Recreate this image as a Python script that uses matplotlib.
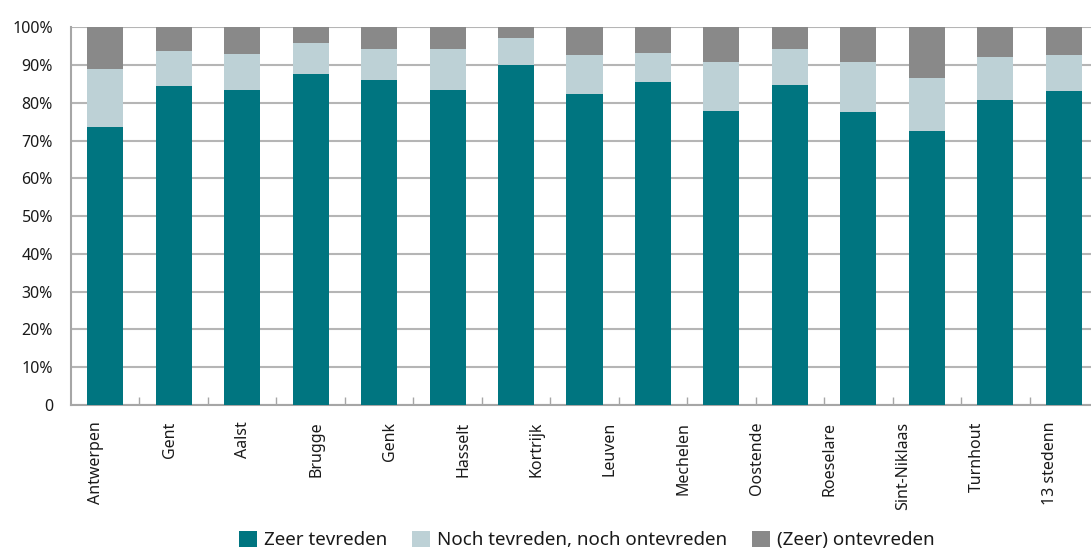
import numpy as np
import matplotlib
matplotlib.use("Agg")
import matplotlib.pyplot as plt
from matplotlib.patches import Patch

plt.rcParams['font.family'] = ['Noto Sans', 'DejaVu Sans']

# steden (14 labels) en de 15 staven zoals in de figuur
steden = ['Antwerpen', 'Gent', 'Aalst', 'Brugge', 'Genk', 'Hasselt', 'Kortrijk',
          'Leuven', 'Mechelen', 'Oostende', 'Roeselare', 'Sint-Niklaas',
          'Turnhout', '13 stedenn']

zeer_tevreden = [73.6, 84.5, 83.4, 87.6, 86.0, 83.4, 90.0, 82.3,
                 85.5, 77.8, 84.7, 77.6, 72.5, 80.7, 83.1]
neutraal = [15.4, 9.2, 9.5, 8.2, 8.3, 10.9, 7.2, 10.4,
            7.7, 13.0, 9.6, 13.2, 14.1, 11.4, 9.6]
ontevreden = [11.0, 6.3, 7.1, 4.2, 5.7, 5.7, 2.8, 7.3,
              6.8, 9.2, 5.7, 9.2, 13.4, 7.9, 7.3]

series_namen = ['Zeer tevreden', 'Noch tevreden, noch ontevreden', '(Zeer) ontevreden']
kleuren = ['#007580', '#BDD1D6', '#898989']

fig = plt.figure(figsize=(10.91, 5.51), dpi=100)
ax = fig.add_axes([0.0651, 0.265, 0.9413, 0.6855])

x = np.arange(len(zeer_tevreden))
breedte = 0.526
onder = np.zeros(len(x))
for waarden, kleur in zip([zeer_tevreden, neutraal, ontevreden], kleuren):
    ax.bar(x, waarden, breedte, bottom=onder, color=kleur, zorder=3)
    onder += np.array(waarden)

ax.set_xlim(-0.5, len(x) - 0.5)
ax.set_ylim(0, 100)

# y-as
ax.set_yticks(np.arange(0, 101, 10))
ax.set_yticklabels(['0'] + [f'{v}%' for v in range(10, 101, 10)])
ax.tick_params(axis='y', length=0, pad=13, labelsize=11.5, labelcolor='#1a1a1a')
ax.yaxis.grid(True, color='#B5B5B5', linewidth=1.5, zorder=0)
ax.set_axisbelow(True)

# x-as: labels verspreid over de breedte, tickjes tussen de staven
label_pos = -0.13 + np.arange(len(steden)) * len(x) / len(steden)
ax.set_xticks(label_pos)
ax.set_xticklabels(steden, rotation=90, va='top', ha='center')
ax.tick_params(axis='x', length=0, pad=12, labelsize=11.5, labelcolor='#1a1a1a')
ax.set_xticks(np.arange(0.5, len(x) - 0.5, 1), minor=True)
ax.tick_params(axis='x', which='minor', direction='in', length=6, width=1, color='#A6A6A6')

for kant in ['top', 'right']:
    ax.spines[kant].set_visible(False)
for kant in ['left', 'bottom']:
    ax.spines[kant].set_color('#A6A6A6')
    ax.spines[kant].set_linewidth(1.5)

handles = [Patch(facecolor=k, edgecolor='none') for k in kleuren]
fig.legend(handles, series_namen, loc='center', bbox_to_anchor=(0.538, 0.02),
           ncol=3, frameon=False, fontsize=13.5, handlelength=0.95, handleheight=0.95,
           handletextpad=0.4, columnspacing=1.3, labelcolor='#1a1a1a')

fig.savefig('out.png', dpi=100)
